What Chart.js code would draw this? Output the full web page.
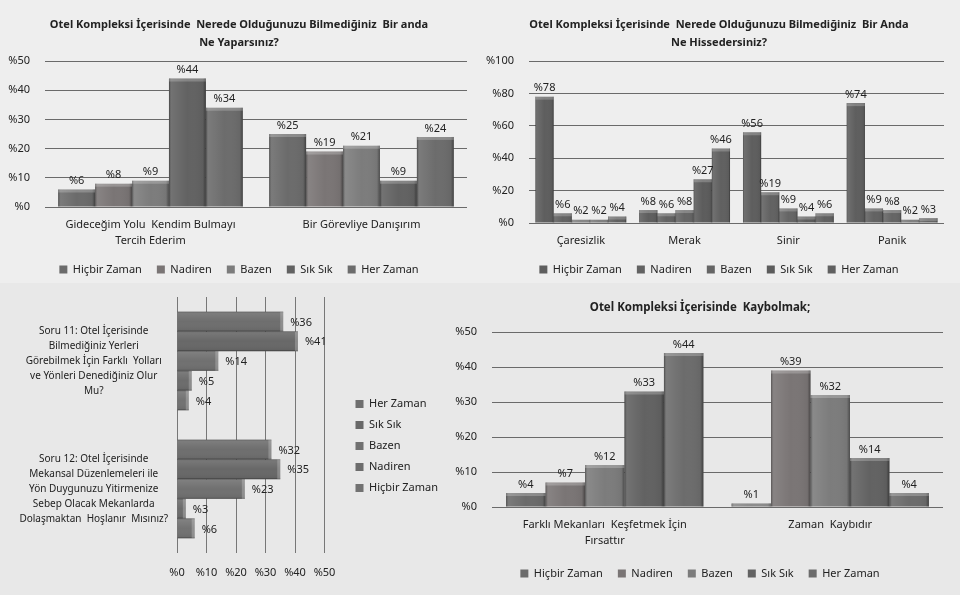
<!DOCTYPE html>
<html lang="tr">

<head>
    <meta charset="UTF-8">
    <title>Otel Kompleksi Anket Sonuçları</title>
    <script src="https://cdn.jsdelivr.net/npm/chart.js"></script>
    <style>
        body {
            margin: 0;
            padding: 0;
            width: 960px;
            height: 595px;
            overflow: hidden;
            background: #e8e8e8;
            position: relative;
        }

        .panel {
            position: absolute;
        }

        .top {
            background: #eeeeee;
        }
    </style>
</head>

<body>
    <div class="panel top" style="left:0; top:0; width:478px; height:283px;"><canvas id="yapChart"></canvas></div>
    <div class="panel top" style="left:478px; top:0; width:482px; height:283px;"><canvas id="hisChart"></canvas></div>
    <div class="panel" style="left:0; top:283px; width:460px; height:312px;"><canvas id="soruChart"></canvas></div>
    <div class="panel" style="left:440px; top:283px; width:520px; height:312px;"><canvas id="kayChart"></canvas></div>

    <script>
        // series shared by all four charts
        const seriesNames = ['Hiçbir Zaman', 'Nadiren', 'Bazen', 'Sık Sık', 'Her Zaman'];
        const barColors = ['#6b6b6b', '#7a7575', '#7c7c7c', '#626262', '#6c6c6c'];
        const darkColors = ['#5e5e5e', '#626262', '#656565', '#5c5c5c', '#606060'];

        // Ne Yaparsınız?
        const yapTitle = ['Otel Kompleksi İçerisinde  Nerede Olduğunuzu Bilmediğiniz  Bir anda', 'Ne Yaparsınız?'];
        const yapLabels = [['Gideceğim Yolu  Kendim Bulmayı', 'Tercih Ederim'], 'Bir Görevliye Danışırım'];
        const yapValues = [[6, 25], [8, 19], [9, 21], [44, 9], [34, 24]];

        // Ne Hissedersiniz?
        const hisTitle = ['Otel Kompleksi İçerisinde  Nerede Olduğunuzu Bilmediğiniz  Bir Anda', 'Ne Hissedersiniz?'];
        const hisLabels = ['Çaresizlik', 'Merak', 'Sinir', 'Panik'];
        const hisValues = [[78, 8, 56, 74], [6, 6, 19, 9], [2, 8, 9, 8], [2, 27, 4, 2], [4, 46, 6, 3]];

        // Soru 11 / Soru 12 (horizontal, top bar = Her Zaman)
        const soruLabels = [
            ['Soru 11: Otel İçerisinde', 'Bilmediğiniz Yerleri', 'Görebilmek İçin Farklı  Yolları', 've Yönleri Denediğiniz Olur', 'Mu?'],
            ['Soru 12: Otel İçerisinde', 'Mekansal Düzenlemeleri ile', 'Yön Duygunuzu Yitirmenize', 'Sebep Olacak Mekanlarda', 'Dolaşmaktan  Hoşlanır  Mısınız?']
        ];
        const soruSeries = ['Her Zaman', 'Sık Sık', 'Bazen', 'Nadiren', 'Hiçbir Zaman'];
        const soruValues = [[36, 32], [41, 35], [14, 23], [5, 3], [4, 6]];

        // Kaybolmak
        const kayTitle = ['Otel Kompleksi İçerisinde  Kaybolmak;'];
        const kayLabels = [['Farklı Mekanları  Keşfetmek İçin', 'Fırsattır'], 'Zaman  Kaybıdır'];
        const kayValues = [[4, 1], [7, 39], [12, 32], [33, 14], [44, 4]];

        Chart.defaults.font.family = "'Noto Sans', sans-serif";
        Chart.defaults.font.size = 11;
        Chart.defaults.color = '#222';
        Chart.defaults.animation = false;
        Chart.defaults.maintainAspectRatio = false;

        // excel style shading on each bar
        const bevel = {
            id: 'bevel',
            afterDatasetsDraw(chart) {
                const ctx = chart.ctx;
                const horizontal = chart.options.indexAxis === 'y';
                ctx.save();
                chart.data.datasets.forEach((ds, i) => {
                    chart.getDatasetMeta(i).data.forEach(bar => {
                        const p = bar.getProps(['x', 'y', 'base', 'width', 'height']);
                        let x0, y0, w, h;
                        if (horizontal) {
                            x0 = Math.min(p.base, p.x); w = Math.abs(p.x - p.base);
                            y0 = p.y - p.height / 2; h = p.height;
                        } else {
                            x0 = p.x - p.width / 2; w = p.width;
                            y0 = Math.min(p.y, p.base); h = Math.abs(p.base - p.y);
                        }
                        const g = horizontal ? ctx.createLinearGradient(0, y0, 0, y0 + h) : ctx.createLinearGradient(x0, 0, x0 + w, 0);
                        g.addColorStop(0, 'rgba(0,0,0,0.35)');
                        g.addColorStop(0.08, 'rgba(255,255,255,0.10)');
                        g.addColorStop(0.5, 'rgba(255,255,255,0)');
                        g.addColorStop(0.92, 'rgba(0,0,0,0.05)');
                        g.addColorStop(1, 'rgba(0,0,0,0.4)');
                        ctx.fillStyle = g;
                        ctx.fillRect(x0, y0, w, h);
                        ctx.fillStyle = 'rgba(255,255,255,0.22)';
                        if (horizontal) ctx.fillRect(x0 + w - 3, y0, 3, h);
                        else ctx.fillRect(x0, y0, w, Math.min(3, h));
                    });
                });
                ctx.restore();
            }
        };

        // "%NN" labels at the end of every bar
        const valueLabels = {
            id: 'valueLabels',
            afterDatasetsDraw(chart) {
                const ctx = chart.ctx;
                const horizontal = chart.options.indexAxis === 'y';
                ctx.save();
                ctx.font = "11px 'Noto Sans'";
                ctx.fillStyle = '#222';
                chart.data.datasets.forEach((ds, i) => {
                    chart.getDatasetMeta(i).data.forEach((bar, j) => {
                        const text = '%' + ds.data[j];
                        if (horizontal) {
                            ctx.textAlign = 'left';
                            ctx.textBaseline = 'middle';
                            ctx.fillText(text, bar.x + 7, bar.y + 1);
                        } else {
                            ctx.textAlign = 'center';
                            ctx.textBaseline = 'bottom';
                            ctx.fillText(text, bar.x, bar.y - 3);
                        }
                    });
                });
                ctx.restore();
            }
        };

        function makeDatasets(names, values, colors) {
            return names.map((name, i) => ({
                label: name,
                data: values[i],
                backgroundColor: colors[i],
                borderWidth: 0,
                borderColor: '#444'
            }));
        }

        const legendLabels = { boxWidth: 8, boxHeight: 8, padding: 15, color: '#222' };
        const pct = v => '%' + v;

        // s: sizes {title, titleTop, titleBottom, y (axis width), x (axis height), gap (right margin), bottom}
        function columnChart(id, title, labels, values, colors, max, step, s) {
            return new Chart(document.getElementById(id), {
                type: 'bar',
                data: { labels: labels, datasets: makeDatasets(seriesNames, values, colors) },
                options: {
                    layout: { padding: { left: 0, right: 0, top: 0, bottom: s.bottom } },
                    datasets: { bar: { categoryPercentage: 0.875, barPercentage: 1 } },
                    plugins: {
                        title: {
                            display: true,
                            text: title,
                            font: { size: s.title, weight: 'bold', lineHeight: 18 / s.title },
                            color: '#222',
                            padding: { top: s.titleTop, bottom: s.titleBottom }
                        },
                        legend: { position: 'bottom', labels: legendLabels },
                        tooltip: { enabled: false }
                    },
                    scales: {
                        x: {
                            grid: { display: false, drawTicks: false },
                            border: { display: false },
                            ticks: { padding: 10, maxRotation: 0, autoSkip: false, font: { lineHeight: 16 / 11 } },
                            afterFit: a => { a.height = s.x; }
                        },
                        y: {
                            min: 0, max: max,
                            grid: { color: '#6a6a6a', drawTicks: false },
                            border: { display: false },
                            ticks: { stepSize: step, padding: 15, callback: pct },
                            afterFit: a => { a.width = s.y; }
                        },
                        // blank margin right of the plot
                        gap: {
                            axis: 'y',
                            type: 'linear',
                            position: 'right',
                            display: false,
                            afterFit: a => { a.width = s.gap; }
                        }
                    }
                },
                plugins: [bevel, valueLabels]
            });
        }

        columnChart('yapChart', yapTitle, yapLabels, yapValues, barColors, 50, 10,
            { title: 11, titleTop: 16, titleBottom: 9, y: 45, x: 42, gap: 11, bottom: -2 });
        columnChart('hisChart', hisTitle, hisLabels, hisValues, darkColors, 100, 20,
            { title: 11, titleTop: 16, titleBottom: 9, y: 51, x: 26, gap: 16, bottom: -2 });
        columnChart('kayChart', kayTitle, kayLabels, kayValues, barColors, 50, 10,
            { title: 11.5, titleTop: 16, titleBottom: 15, y: 52, x: 46, gap: 17, bottom: 6 });

        // horizontal bars for the two questions
        new Chart(document.getElementById('soruChart'), {
            type: 'bar',
            data: { labels: soruLabels, datasets: makeDatasets(soruSeries, soruValues, ['#6e6e6e', '#686868', '#707070', '#6c6c6c', '#727272']) },
            options: {
                indexAxis: 'y',
                layout: { padding: { left: 0, right: 12, top: 14, bottom: 0 } },
                datasets: { bar: { categoryPercentage: 0.77, barPercentage: 1 } },
                plugins: {
                    legend: { position: 'right', labels: { boxWidth: 8, boxHeight: 8, padding: 10, color: '#222' } },
                    tooltip: { enabled: false }
                },
                scales: {
                    x: {
                        min: 0, max: 50,
                        grid: { color: '#777', drawTicks: false },
                        border: { display: false },
                        ticks: { stepSize: 10, padding: 13, callback: pct },
                        afterFit: a => { a.height = 42; }
                    },
                    y: {
                        grid: { display: false, drawTicks: false },
                        border: { display: false },
                        ticks: { crossAlign: 'center', padding: 9, autoSkip: false, font: { size: 10, lineHeight: 1.5 } },
                        afterFit: a => { a.width = 177; a.paddingTop = 0; a.paddingBottom = 0; }
                    },
                    // empty space between the plot and the legend
                    gap: {
                        axis: 'y',
                        type: 'category',
                        position: 'right',
                        display: false,
                        afterFit: a => { a.width = 21; }
                    }
                }
            },
            plugins: [bevel, valueLabels]
        });
    </script>
</body>

</html>
